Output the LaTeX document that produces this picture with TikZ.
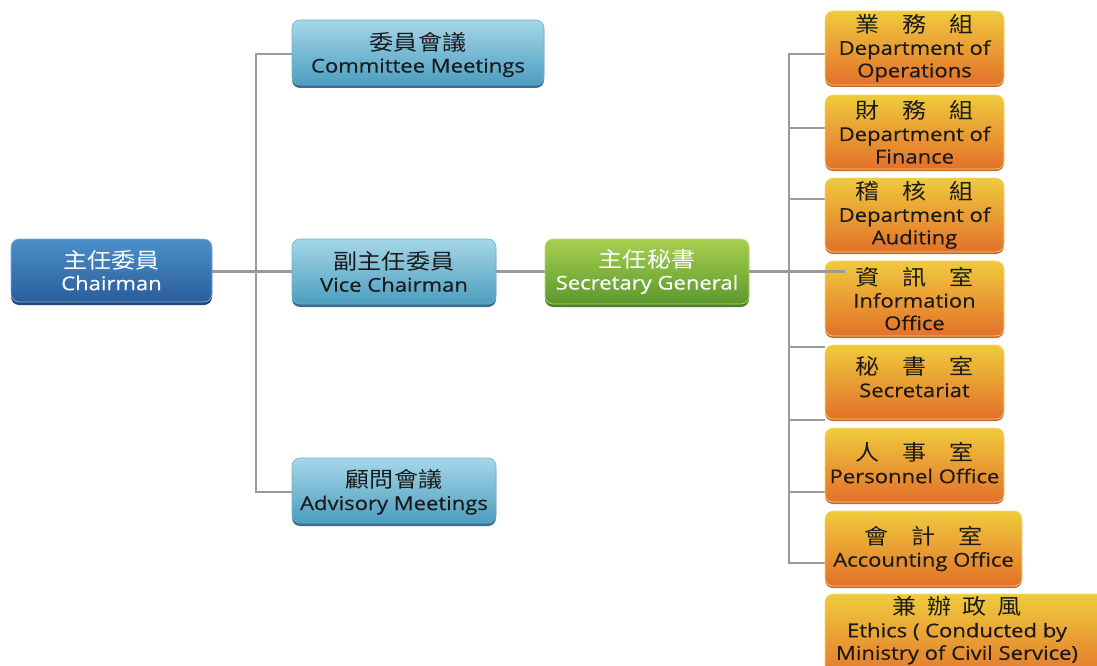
\documentclass[tikz,border=0pt]{standalone}
\usepackage{fontspec}
\setmainfont{Open Sans}[FakeStretch=1.16, FakeBold=0.35]
\newfontfamily\cjk{Noto Sans CJK TC}[FakeStretch=1.12]
\usetikzlibrary{shadows}
\definecolor{cDarkTop}{HTML}{4A90C9}
\definecolor{cDarkBot}{HTML}{2B5D9C}
\definecolor{cDarkSh}{HTML}{23487A}
\definecolor{cLightTop}{HTML}{A6D7E9}
\definecolor{cLightBot}{HTML}{4C9DBE}
\definecolor{cLightSh}{HTML}{3A6E96}
\definecolor{cGreenTop}{HTML}{A8CF50}
\definecolor{cGreenBot}{HTML}{5A992D}
\definecolor{cGreenSh}{HTML}{4C7E2A}
\definecolor{cOrTop}{HTML}{EFCB3C}
\definecolor{cOrBot}{HTML}{E3702A}
\definecolor{cOrSh}{HTML}{C9652E}
\definecolor{cLine}{HTML}{9A9A9A}
\definecolor{cText}{HTML}{1A1A1A}
\newcommand{\zh}[1]{{\cjk\fontsize{21.5}{22}\selectfont #1}}
\newcommand{\zs}{\hspace{23pt}}
\tikzset{
  conn/.style={draw=cLine, line width=2.4pt},
  basebox/.style={rounded corners=8pt, inner sep=0pt, align=center,
    font=\fontsize{19}{22.5}\selectfont, line width=0.6pt},
  darkbox/.style={basebox, top color=cDarkTop, bottom color=cDarkBot, draw=cDarkTop!70!white, text=white,
    general shadow={fill=cDarkSh, shadow yshift=-3pt}},
  lightbox/.style={basebox, top color=cLightTop, bottom color=cLightBot, draw=cLightBot!80!white, text=cText,
    general shadow={fill=cLightSh, shadow yshift=-3pt}},
  greenbox/.style={basebox, top color=cGreenTop, bottom color=cGreenBot, draw=cGreenTop!80!white, text=white,
    general shadow={fill=cGreenSh, shadow yshift=-3pt}},
  orbox/.style={basebox, top color=cOrTop, bottom color=cOrBot, draw=cOrTop!70!white, text=cText,
    general shadow={fill=cOrSh, shadow yshift=-2pt}},
  label/.style={align=center, inner sep=0pt, font=\fontsize{19}{22.5}\selectfont, text=cText},
}
\begin{document}
\begin{tikzpicture}[x=1pt, y=-1pt]
\useasboundingbox (0,0) rectangle (1097,666);
\coordinate (lt) at (256,272);
\coordinate (rt) at (789,272);
% anchors
\path
 node[basebox, minimum width=201pt, minimum height=63pt] (chair) at (111.5,270.5) {}
 node[basebox, minimum width=252pt, minimum height=65pt] (comm) at (418,52.5) {}
 node[basebox, minimum width=204pt, minimum height=65pt] (vice) at (394,271.5) {}
 node[basebox, minimum width=204pt, minimum height=65pt] (adv) at (394,490.5) {}
 node[basebox, minimum width=204pt, minimum height=65pt] (sec) at (647,271.5) {}
 node[basebox, minimum width=179pt, minimum height=74pt] (o1) at (914.5,48) {}
 node[basebox, minimum width=179pt, minimum height=74pt] (o2) at (914.5,132) {}
 node[basebox, minimum width=179pt, minimum height=74pt] (o3) at (914.5,215) {}
 node[basebox, minimum width=179pt, minimum height=75pt] (o4) at (914.5,298.5) {}
 node[basebox, minimum width=179pt, minimum height=74pt] (o5) at (914.5,382) {}
 node[basebox, minimum width=179pt, minimum height=74pt] (o6) at (914.5,465) {}
 node[basebox, minimum width=197pt, minimum height=75pt] (o7) at (923.5,548.5) {}
 node[basebox, minimum width=285pt, minimum height=90pt] (o8) at (967.5,639) {};
\coordinate (ie) at ([xshift=20pt]o4.west);
% left trunk
\draw[conn] ([yshift=-1.5pt]comm.west) -| (lt) |- ([yshift=-1.5pt]adv.west);
\draw[conn] (vice.west -| chair.east) -- (vice.west);
\draw[conn] (vice.east) -- (sec.west);
% right trunk
\draw[conn] ([yshift=-6pt]o1.west) -| (rt) |- ([yshift=-14.5pt]o7.west);
\draw[conn] ([yshift=4pt]o2.west) -- ++(-36,0);
\draw[conn] ([yshift=16pt]o3.west) -- ++(-36,0);
\draw[conn] ([yshift=35pt]o5.west) -- ++(-36,0);
\draw[conn] ([yshift=-38pt]o5.west) -- ++(-36,0);
\draw[conn] ([yshift=-27pt]o6.west) -- ++(-36,0);
% boxes
\node[darkbox, minimum width=201pt, minimum height=63pt] at (chair) {\zh{主任委員}\\[-1pt]Chairman};
\node[lightbox, minimum width=252pt, minimum height=65pt] at (comm) {};
\node[lightbox, minimum width=204pt, minimum height=65pt] at (vice) {\zh{副主任委員}\\Vice Chairman};
\node[lightbox, minimum width=204pt, minimum height=65pt] at (adv) {};
\node[greenbox, minimum width=204pt, minimum height=65pt] at (sec) {\zh{主任秘書}\\Secretary General};
\node[orbox, minimum width=179pt, minimum height=74pt] at (o1) {\zh{業\zs 務\zs 組}\\Department of\\Operations};
\node[orbox, minimum width=179pt, minimum height=74pt] at (o2) {\zh{財\zs 務\zs 組}\\Department of\\Finance};
\node[orbox, minimum width=179pt, minimum height=74pt] at (o3) {\zh{稽\zs 核\zs 組}\\Department of\\Auditing};
\node[orbox, minimum width=179pt, minimum height=75pt] at (o4) {\zh{資\zs 訊\zs 室}\\Information\\Office};
\node[orbox, minimum width=179pt, minimum height=74pt] at (o5) {\zh{秘\zs 書\zs 室}\\Secretariat\\[-12pt]\vphantom{A}};
\node[orbox, minimum width=179pt, minimum height=74pt] at (o6) {\zh{人\zs 事\zs 室}\\Personnel Office\\[-18pt]\vphantom{A}};
\node[orbox, minimum width=197pt, minimum height=75pt] at (o7) {\zh{會\zs 計\zs 室}\\Accounting Office};
\node[orbox, minimum width=285pt, minimum height=90pt] at (o8) {};
% texts placed over boxes where offset
\node[label] (commt) at (418,54.5) {\zh{委員會議}\\Committee Meetings};
\node[label] (advt) at (394,492) {\zh{顧問會議}\\Advisory Meetings};
\node[label] (o8t) at (957,630.5) {\zh{兼\hspace{11pt}辦\hspace{11pt}政\hspace{11pt}風}\\Ethics ( Conducted by\\Ministry of Civil Service)};
% line that overlaps the Information box
\draw[conn] (sec.east) -- (sec.east -| ie);
\end{tikzpicture}
\end{document}
